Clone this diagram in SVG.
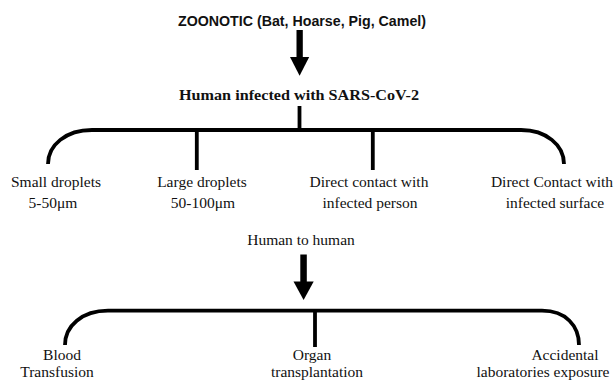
<svg xmlns="http://www.w3.org/2000/svg" width="616" height="385" viewBox="0 0 616 385">
<style>
.s{font-family:"Liberation Serif","Times New Roman",serif;font-size:15.5px;fill:#111;text-anchor:middle}
.b{font-family:"Liberation Serif","Times New Roman",serif;font-size:15.5px;font-weight:bold;fill:#111;text-anchor:middle}
.z{font-family:"Liberation Sans",Arial,sans-serif;font-size:14.5px;font-weight:bold;fill:#111;text-anchor:middle}
.ln{fill:none;stroke:#000;stroke-width:3.8}
.ar{fill:#000}
</style>
<rect width="616" height="385" fill="#fff"/>
<g id="connectors">
<g id="arrow1" class="ar"><rect x="296.5" y="30" width="6.3" height="28"/><polygon points="290,57 309.2,57 299.6,75.8"/></g>
<path class="ln" d="M299.5,106 V130"/>
<path class="ln" d="M48,164 C48,145 66,130 92,130 H521 C546,130 564,145 564,164"/>
<path class="ln" d="M196.8,130 V170 M372.8,130 V170"/>
<g id="arrow2" class="ar"><rect x="300.3" y="254.5" width="6.5" height="28"/><polygon points="293.5,281.5 313.7,281.5 303.6,300"/></g>
<path class="ln" d="M65,345 C65,326 82,310.7 108,310.7 H542 C566,310.7 579,326 579,345"/>
<path class="ln" d="M315,310.7 V347"/>
</g>
<g id="zoonotic"><text class="z" x="302" y="26" textLength="248" lengthAdjust="spacingAndGlyphs">ZOONOTIC (Bat, Hoarse, Pig, Camel)</text></g>
<g id="human-infected"><text class="b" x="299" y="100" textLength="240" lengthAdjust="spacingAndGlyphs">Human infected with SARS-CoV-2</text></g>
<g id="small-droplets"><text class="s" x="56" y="187">Small droplets</text><text class="s" x="53" y="208">5-50μm</text></g>
<g id="large-droplets"><text class="s" x="202" y="187">Large droplets</text><text class="s" x="203" y="208">50-100μm</text></g>
<g id="direct-person"><text class="s" x="369" y="187">Direct contact with</text><text class="s" x="370" y="208">infected person</text></g>
<g id="direct-surface"><text class="s" x="552" y="187">Direct Contact with</text><text class="s" x="555" y="208">infected surface</text></g>
<g id="human-to-human"><text class="s" x="301" y="245">Human to human</text></g>
<g id="blood"><text class="s" x="62" y="360">Blood</text><text class="s" x="57" y="377">Transfusion</text></g>
<g id="organ"><text class="s" x="312" y="360">Organ</text><text class="s" x="317" y="377">transplantation</text></g>
<g id="accidental"><text class="s" x="565" y="360">Accidental</text><text class="s" x="543" y="377">laboratories exposure</text></g>
</svg>
